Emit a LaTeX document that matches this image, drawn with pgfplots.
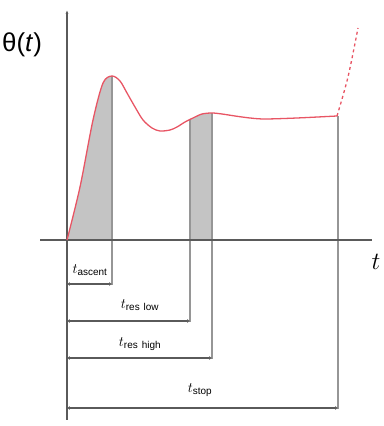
\documentclass[border=0pt]{standalone}
\usepackage{fontspec}
\setmainfont{Liberation Sans}
\usepackage{pgfplots}
\pgfplotsset{compat=1.18}
\usetikzlibrary{arrows.meta}
\definecolor{curvered}{RGB}{232,85,100}
\definecolor{axisgray}{RGB}{90,90,90}
\definecolor{linegray}{RGB}{150,150,150}
\definecolor{shadegray}{RGB}{196,196,196}
\begin{document}
\begin{tikzpicture}
\begin{axis}[
  width=382bp, height=426bp, scale only axis,
  xmin=0, xmax=382, ymin=-186, ymax=240,
  hide axis, clip=false,
]
% bounding box
\addplot[draw=none] coordinates {(0,-186) (382,240)};
% shaded areas under the curve
\addplot[fill=shadegray, draw=none, smooth] coordinates {(67,0) (80,53) (93,120) (103,157) (112,164)} \closedcycle;
\addplot[fill=shadegray, draw=none, smooth] coordinates {(190,121) (193,122) (202,126) (212,127)} \closedcycle;
% vertical guide lines
\addplot[linegray, line width=1.2pt] coordinates {(112,164) (112,-45)};
\addplot[linegray, line width=1.2pt] coordinates {(190,121) (190,-82)};
\addplot[linegray, line width=1.2pt] coordinates {(212,127) (212,-119)};
\addplot[linegray, line width=1.2pt] coordinates {(338,124) (338,-169)};
% axes
\addplot[axisgray, line width=1.3pt] coordinates {(40,0) (372,0)};
\addplot[axisgray, line width=1.3pt, -{Latex[length=4pt,width=3pt]}] coordinates {(67,-180) (67,230)};
% response curve
\addplot[curvered, line width=1.3pt, smooth] coordinates {
(67,0) (80,53) (93,120) (103,157) (112,164) (120,159) (127,147) (135,133) (143,120) (152,112) (160,109) (170,110) (177,113) (185,118) (193,122) (202,126) (212,127) (222,126) (235,124) (250,122) (265,121) (297,122) (337,124)};
\addplot[curvered, line width=1.3pt, dashed, smooth] coordinates {(337,124) (348,163) (358,212)};
% interval arrows
\addplot[axisgray, line width=1.8pt, {Latex[length=3pt,width=4pt]}-{Latex[length=3pt,width=4pt]}] coordinates {(67,-44) (112,-44)};
\addplot[axisgray, line width=1.8pt, {Latex[length=3pt,width=4pt]}-{Latex[length=3pt,width=4pt]}] coordinates {(67,-81) (190,-81)};
\addplot[axisgray, line width=1.8pt, {Latex[length=3pt,width=4pt]}-{Latex[length=3pt,width=4pt]}] coordinates {(67,-118) (212,-118)};
\addplot[axisgray, line width=1.8pt, {Latex[length=3pt,width=4pt]}-{Latex[length=3pt,width=4pt]}] coordinates {(67,-168) (338,-168)};
% labels
\node[font=\Large] at (axis cs:90,-30) {$t_{\mathrm{ascent}}$};
\node[font=\Large] at (axis cs:140,-65) {$t_{\mathrm{res\ low}}$};
\node[font=\Large] at (axis cs:140,-104) {$t_{\mathrm{res\ high}}$};
\node[font=\Large] at (axis cs:200,-150) {$t_{\mathrm{stop}}$};
\node[font=\fontsize{28}{30}\selectfont] at (axis cs:376,-22) {$t$};
\node[font=\fontsize{26}{28}\selectfont, anchor=west, inner sep=0pt] at (axis cs:2,195) {θ(\textit{t})};
\end{axis}
\end{tikzpicture}
\end{document}
